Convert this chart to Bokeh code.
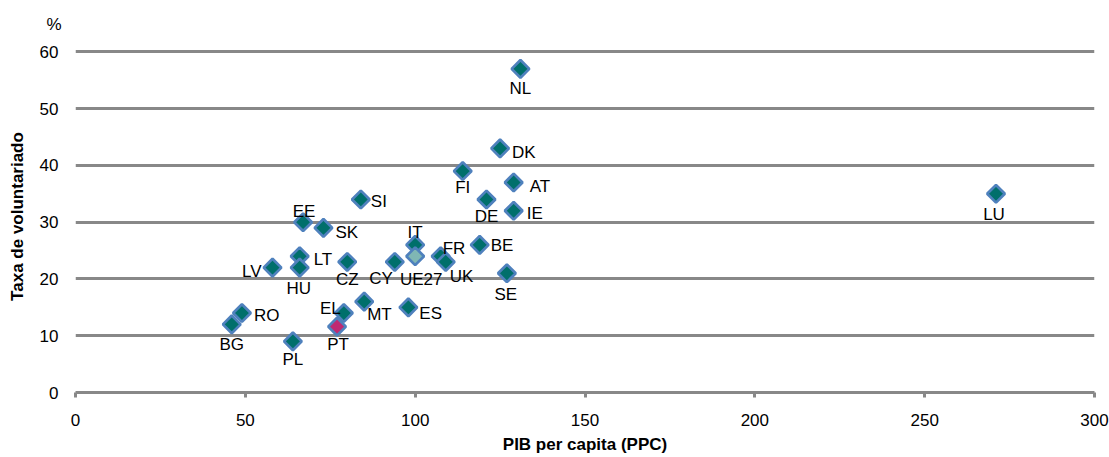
import math
from bokeh.plotting import figure
from bokeh.models import ColumnDataSource, Range1d, FixedTicker, LabelSet
from bokeh.core.properties import value
from bokeh.embed import file_html
from bokeh.resources import INLINE

# ---- data ----
countries = ["NL", "DK", "FI", "AT", "DE", "IE", "LU", "SI", "EE", "SK",
             "IT", "UE27", "FR", "UK", "BE", "SE", "CY", "CZ", "LT", "HU",
             "LV", "RO", "BG", "PL", "EL", "PT", "MT", "ES"]
gdp_pps = [131, 125, 114, 129, 121, 129, 271, 84, 67, 73,
           100, 100, 107.5, 109, 119, 127, 94, 80, 66, 66,
           58, 49, 46, 64, 79, 77, 85, 98]
volunteer_rate = [57, 43, 39, 37, 34, 32, 35, 34, 30, 29,
                  26, 24, 24, 23, 26, 21, 23, 23, 24, 22,
                  22, 14, 12, 9, 14, 11.6, 16, 15]
x_ticks = [0, 50, 100, 150, 200, 250, 300]
y_ticks = [0, 10, 20, 30, 40, 50, 60]

# ---- label placement (style: pixel offsets, + = right / down, alignment) ----
label_place = {
    "NL": (0, 20, "center"), "DK": (12, 4, "left"), "FI": (0, 16, "center"),
    "AT": (16, 4, "left"), "DE": (0, 17, "center"), "IE": (13, 3, "left"),
    "LU": (-2, 21, "center"), "SI": (10, 2, "left"), "EE": (1, -11, "center"),
    "SK": (12, 5, "left"), "IT": (0, -12, "center"), "UE27": (6, 23, "center"),
    "FR": (2, -8, "left"), "UK": (4, 15, "left"), "BE": (11, 1, "left"),
    "SE": (-1, 21, "center"), "CY": (-2, 17, "right"), "CZ": (0, 18, "center"),
    "LT": (14, 3, "left"), "HU": (-1, 21, "center"), "LV": (-11, 4, "right"),
    "RO": (12, 2, "left"), "BG": (0, 20, "center"), "PL": (0, 18, "center"),
    "EL": (-3, -5, "right"), "PT": (1, 18, "center"), "MT": (3, 13, "left"),
    "ES": (11, 6, "left"),
}

FONT = "Liberation Sans"
GRID = "#888888"

def fill_for(c):
    if c == "PT":
        return "#bf2a72"
    if c == "UE27":
        return "#7fb7b4"
    return "#006f6b"

p = figure(width=1109, height=457, output_backend="svg", toolbar_location=None,
           x_range=Range1d(0, 300), y_range=Range1d(0, 62),
           min_border_left=75, min_border_right=15, min_border_top=40,
           min_border_bottom=65, title="%")
p.outline_line_color = None
p.background_fill_color = "white"
p.border_fill_color = "white"

# "%" unit label placed via the title, above the y tick labels
p.title.text_font = FONT
p.title.text_font_size = "17px"
p.title.text_font_style = "normal"
p.title.text_color = "black"
p.title.align = "left"
p.title.offset = -29
p.title.standoff = 14

# grid
p.xgrid.grid_line_color = None
p.ygrid.grid_line_color = GRID
p.ygrid.grid_line_width = 3
p.ygrid.ticker = FixedTicker(ticks=y_ticks)

# x axis
p.xaxis.ticker = FixedTicker(ticks=x_ticks)
p.xaxis.axis_line_color = GRID
p.xaxis.axis_line_width = 3
p.xaxis.major_tick_line_color = GRID
p.xaxis.major_tick_line_width = 3
p.xaxis.major_tick_out = 5
p.xaxis.major_tick_in = 0
p.xaxis.minor_tick_line_color = None
p.xaxis.major_label_standoff = 16
p.xaxis.major_label_text_font = FONT
p.xaxis.major_label_text_font_size = "17px"
p.xaxis.major_label_text_color = "black"
p.xaxis.axis_label = "PIB per capita (PPC)"
p.xaxis.axis_label_text_font = FONT
p.xaxis.axis_label_text_font_size = "17px"
p.xaxis.axis_label_text_font_style = "bold"
p.xaxis.axis_label_text_color = "black"
p.xaxis.axis_label_standoff = 6

# y axis
p.yaxis.ticker = FixedTicker(ticks=y_ticks)
p.yaxis.axis_line_color = None
p.yaxis.major_tick_line_color = None
p.yaxis.minor_tick_line_color = None
p.yaxis.major_tick_out = 0
p.yaxis.major_tick_in = 0
p.yaxis.major_label_standoff = 17
p.yaxis.major_label_text_font = FONT
p.yaxis.major_label_text_font_size = "17px"
p.yaxis.major_label_text_color = "black"
p.yaxis.axis_label = "Taxa de voluntariado"
p.yaxis.axis_label_text_font = FONT
p.yaxis.axis_label_text_font_size = "17px"
p.yaxis.axis_label_text_font_style = "bold"
p.yaxis.axis_label_text_color = "black"
p.yaxis.axis_label_standoff = 10

# markers
src = ColumnDataSource(dict(x=gdp_pps, y=volunteer_rate, name=countries,
                            fill=[fill_for(c) for c in countries]))
p.scatter("x", "y", source=src, marker="square", angle=math.pi / 4, size=12.5,
          fill_color="fill", line_color="#4f81bd", line_width=2.7)

# labels, grouped by alignment
for align in ("left", "center", "right"):
    idx = [i for i, c in enumerate(countries) if label_place[c][2] == align]
    s = ColumnDataSource(dict(
        x=[gdp_pps[i] for i in idx], y=[volunteer_rate[i] for i in idx],
        t=[countries[i] for i in idx],
        dx=[label_place[countries[i]][0] for i in idx],
        dy=[-label_place[countries[i]][1] for i in idx]))
    p.add_layout(LabelSet(x="x", y="y", text="t", source=s, x_offset="dx",
                          y_offset="dy", text_align=align,
                          text_baseline="middle", text_font=value(FONT),
                          text_font_size=value("17px"), text_color="black"))

open("out.html", "w").write(file_html(p, INLINE))
